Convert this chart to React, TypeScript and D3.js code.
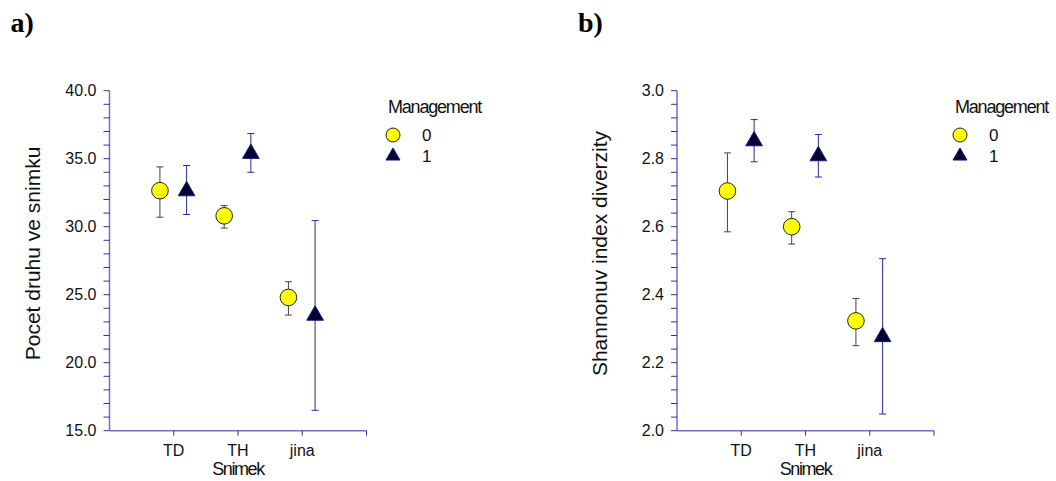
import React from 'react';
import * as d3 from 'd3';

const categories = ['TD', 'TH', 'jina'];
const groups = ['0', '1'];

// panel a: Pocet druhu ve snimku
const speciesMean0 = [32.65, 30.8, 24.8];
const speciesLow0 = [30.7, 29.9, 23.5];
const speciesHigh0 = [34.4, 31.55, 25.95];
const speciesMean1 = [32.7, 35.45, 23.55];
const speciesLow1 = [30.9, 34.0, 16.5];
const speciesHigh1 = [34.5, 36.85, 30.45];
const speciesTicks = [15, 20, 25, 30, 35, 40];

// panel b: Shannonuv index diverzity
const shannonMean0 = [2.705, 2.6, 2.323];
const shannonLow0 = [2.585, 2.549, 2.25];
const shannonHigh0 = [2.817, 2.644, 2.389];
const shannonMean1 = [2.855, 2.811, 2.279];
const shannonLow1 = [2.791, 2.746, 2.049];
const shannonHigh1 = [2.915, 2.871, 2.506];
const shannonTicks = [2.0, 2.2, 2.4, 2.6, 2.8, 3.0];

const FONT = 'Liberation Sans, Arial, sans-serif';
const AXIS = '#7070c0';
const TICK = '#303090';

type Series = { mean: number[]; low: number[]; high: number[] };

const triangle = d3.symbol().type(d3.symbolTriangle).size(120);
const legendTriangle = d3.symbol().type(d3.symbolTriangle).size(85);

function Panel({ left, label, title, domain, ticks, minorStep, s0, s1, legendX }: {
  left: number; label: string; title: string; domain: [number, number]; ticks: number[];
  minorStep: number; s0: Series; s1: Series; legendX: number;
}) {
  const x = d3.scaleLinear().domain([0, 4]).range([left, left + 257]);
  const y = d3.scaleLinear().domain(domain).range([430.7, 90.7]);
  const minor = d3.range(domain[0], domain[1] + minorStep / 2, minorStep);
  const off0 = -0.215;
  const off1 = 0.2;

  const errBar = (xi: number, lo: number, hi: number, color: string, key: string) => (
    <g key={key} stroke={color} strokeWidth={1}>
      <line x1={xi} x2={xi} y1={y(lo)} y2={y(hi)} />
      <line x1={xi - 3.5} x2={xi + 3.5} y1={y(lo)} y2={y(lo)} />
      <line x1={xi - 3.5} x2={xi + 3.5} y1={y(hi)} y2={y(hi)} />
    </g>
  );

  return (
    <g fontFamily={FONT}>
      <text x={left - 99} y={32} fontFamily="Liberation Serif, Times New Roman, serif" fontWeight="bold" fontSize={28}>{label}</text>
      {/* y axis */}
      <line x1={x(0)} x2={x(0)} y1={y(domain[0])} y2={y(domain[1])} stroke={AXIS} strokeWidth={1.5} />
      {minor.map((v, i) => (
        <line key={'m' + i} x1={x(0) - 6} x2={x(0)} y1={y(v)} y2={y(v)} stroke={TICK} strokeWidth={1} />
      ))}
      {ticks.map(v => (
        <text key={'t' + v} x={x(0) - 13} y={y(v)} dy="0.35em" textAnchor="end" fontSize={16} fill="#111">{v.toFixed(1)}</text>
      ))}
      <text transform={`translate(${left - 70},${253.5}) rotate(-90)`} textAnchor="middle" fontSize={21} fill="#111">{title}</text>
      {/* x axis */}
      <line x1={x(0)} x2={x(4)} y1={y(domain[0])} y2={y(domain[0])} stroke={AXIS} strokeWidth={1.5} />
      {[1, 2, 3, 4].map(v => (
        <line key={'xt' + v} x1={x(v)} x2={x(v)} y1={y(domain[0])} y2={y(domain[0]) + 5} stroke={TICK} strokeWidth={1} />
      ))}
      {categories.map((c, i) => (
        <text key={'xl' + c} x={x(i + 1)} y={456} textAnchor="middle" fontSize={16} fill="#111">{c}</text>
      ))}
      <text x={x(2)} y={475} textAnchor="middle" fontSize={18} letterSpacing={-1.4} fill="#111">Snimek</text>
      {/* error bars */}
      {categories.map((c, i) => errBar(x(i + 1 + off0), s0.low[i], s0.high[i], '#444', 'e0' + c))}
      {categories.map((c, i) => errBar(x(i + 1 + off1), s1.low[i], s1.high[i], '#2a2a9a', 'e1' + c))}
      {/* markers */}
      {categories.map((c, i) => (
        <circle key={'c' + c} cx={x(i + 1 + off0)} cy={y(s0.mean[i])} r={8.3} fill="#ffff00" stroke="#222" strokeWidth={1} />
      ))}
      {categories.map((c, i) => (
        <path key={'p' + c} d={triangle() as string} transform={`translate(${x(i + 1 + off1)},${y(s1.mean[i]) + 1})`} fill="#000033" stroke="#1a1a80" strokeWidth={1} />
      ))}
      {/* legend */}
      <text x={legendX} y={113} fontSize={18} letterSpacing={-1.2} fill="#111">Management</text>
      {groups.map((g, i) => (
        <g key={'lg' + g}>
          {i === 0
            ? <circle cx={legendX + 5} cy={135} r={7} fill="#ffff00" stroke="#222" strokeWidth={1} />
            : <path d={legendTriangle() as string} transform={`translate(${legendX + 5},${156})`} fill="#000033" stroke="#1a1a80" strokeWidth={1} />}
          <text x={legendX + 34} y={135 + i * 21} dy="0.35em" fontSize={17} fill="#111">{g}</text>
        </g>
      ))}
    </g>
  );
}

export default function App() {
  return (
    <svg width={1056} height={481} style={{ position: 'absolute', left: 0, top: 0, background: '#fff' }}>
      <rect width={1056} height={481} fill="#fff" />
      <Panel left={109.5} label="a)" title="Pocet druhu ve snimku" domain={[15, 40]} ticks={speciesTicks} minorStep={1}
        s0={{ mean: speciesMean0, low: speciesLow0, high: speciesHigh0 }}
        s1={{ mean: speciesMean1, low: speciesLow1, high: speciesHigh1 }} legendX={388} />
      <Panel left={677} label="b)" title="Shannonuv index diverzity" domain={[2, 3]} ticks={shannonTicks} minorStep={0.04}
        s0={{ mean: shannonMean0, low: shannonLow0, high: shannonHigh0 }}
        s1={{ mean: shannonMean1, low: shannonLow1, high: shannonHigh1 }} legendX={955} />
    </svg>
  );
}
